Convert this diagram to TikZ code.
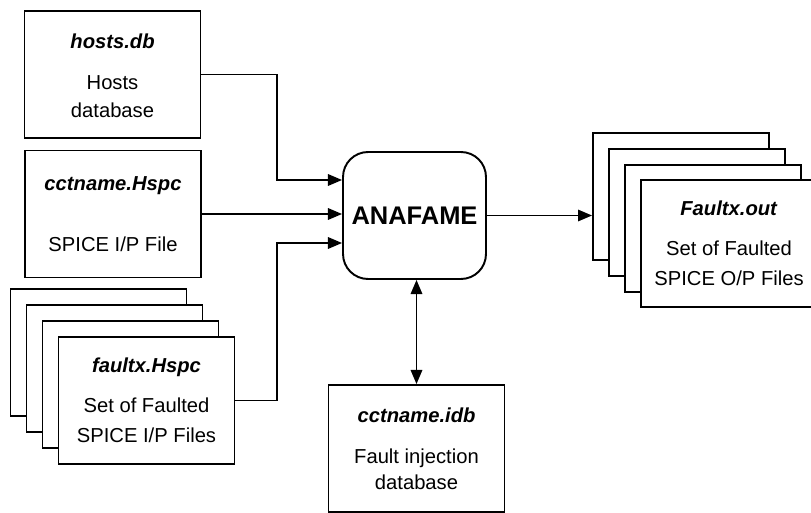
\documentclass[tikz,border=0pt]{standalone}
\usepackage{fontspec}
\setmainfont{Liberation Sans}
\usetikzlibrary{arrows.meta,calc}

\newcommand{\ftitle}[1]{\textbf{\textit{#1}}\\[6pt]}

\begin{document}
\begin{tikzpicture}
  [x=0.02cm,y=-0.02cm,line width=1.1pt,
   >={Triangle[length=8pt,width=6.5pt]},
   filebox/.style={draw,fill=white,minimum width=3.52cm,minimum height=2.54cm,
     inner sep=0pt,align=center,font=\fontsize{11.5}{17}\selectfont},
   toolbox/.style={draw,rounded corners=0.5cm,minimum width=2.86cm,
     minimum height=2.54cm,font=\fontsize{14.5}{17}\selectfont\bfseries}]
  \useasboundingbox (0,0) rectangle (811,513);
  % input files
  \node[filebox] (hosts) at (112.5,74.5) {\mbox{}\\[-7pt]\ftitle{hosts.db}Hosts\\[-1pt]database};
  \node[filebox] (cct) at (113,214) {\ftitle{cctname.Hspc}\\[-5pt]SPICE I/P File};
  \foreach \i in {0,1,2}
    \node[filebox] (fin\i) at ({98.5+16*\i},{352.5+16*\i}) {};
  \node[filebox] (fin) at (146.5,400.5) {\ftitle{faultx.Hspc}Set of Faulted\\SPICE I/P Files};
  % tool
  \node[toolbox] (anafame) at (414.5,215.5) {ANAFAME};
  % output files
  \foreach \i in {0,1,2}
    \node[filebox] (fout\i) at ({681+16*\i},{196.5+16*\i}) {};
  \node[filebox] (fout) at (729,243.5) {\ftitle{Faultx.out}Set of Faulted\\SPICE O/P Files};
  % fault database
  \node[filebox] (idb) at (416.5,448.5) {\mbox{}\\[-8pt]\ftitle{cctname.idb}Fault injection\\[-2pt]database};
  % connections
  \draw[->] (hosts.east) -- ++(76,0) |- ($(anafame.west)+(0,-35.5)$);
  \draw[->] (cct.east) -- (cct.east -| anafame.west);
  \draw[->] (fin.east) -- ++(42,0) |- ($(anafame.west)+(0,27.5)$);
  \draw[->] (anafame.east) -- (anafame.east -| fout0.west);
  \draw[<->] (idb.north) -- (idb.north |- anafame.south);
\end{tikzpicture}
\end{document}
